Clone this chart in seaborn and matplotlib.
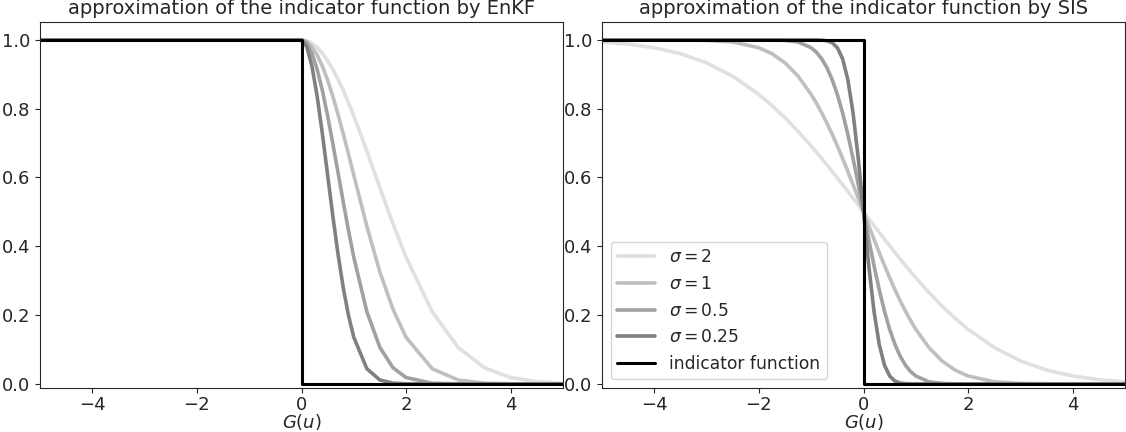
import matplotlib
matplotlib.use("Agg")
import matplotlib.pyplot as plt
import seaborn as sns

sns.set_style("ticks")
plt.rcParams['font.family'] = ['DejaVu Sans']

sigmas = ["2", "1", "0.5", "0.25"]
colors = ["#e0e0e0", "#bfbfbf", "#a1a1a1", "#808080"]

# EnKF panel: values (x <= 0 all equal 1)
enkf_x = [-5, 0, 0.1, 0.2, 0.3, 0.4, 0.5, 0.6, 0.7, 0.8, 0.9, 1.0,
          1.25, 1.5, 1.75, 2.0, 2.5, 3.0, 3.5, 4.0, 4.5, 5.0]
enkf_s2 = [1, 1, .9975, .9900, .9778, .9608, .9394, .9139, .8847, .8521, .8167, .7788,
           .6766, .5698, .4650, .3679, .2096, .1054, .0468, .0183, .0063, .0019]
enkf_s1 = [1, 1, .9950, .9802, .9560, .9231, .8825, .8353, .7827, .7261, .6670, .6065,
           .4578, .3247, .2163, .1353, .0439, .0111, .0022, .0003, 0, 0]
enkf_s05 = [1, 1, .9900, .9608, .9139, .8521, .7788, .6977, .6126, .5273, .4449, .3679,
            .2096, .1054, .0468, .0183, .0019, .0001, 0, 0, 0, 0]
enkf_s025 = [1, 1, .9802, .9231, .8353, .7261, .6065, .4868, .3753, .2780, .1979, .1353,
             .0439, .0111, .0022, .0003, 0, 0, 0, 0, 0, 0]

# SIS panel
sis_x = [-5, -4.5, -4, -3.5, -3, -2.5, -2, -1.75, -1.5, -1.25, -1,
         -0.9, -0.8, -0.7, -0.6, -0.5, -0.4, -0.3, -0.2, -0.1, 0,
         0.1, 0.2, 0.3, 0.4, 0.5, 0.6, 0.7, 0.8, 0.9, 1.0,
         1.25, 1.5, 1.75, 2.0, 2.5, 3.0, 3.5, 4.0, 4.5, 5.0]
sis_s2 = [.9938, .9878, .9772, .9599, .9332, .8944, .8413, .8092, .7734, .7340, .6915,
          .6736, .6554, .6368, .6179, .5987, .5793, .5596, .5398, .5199, .5,
          .4801, .4602, .4404, .4207, .4013, .3821, .3632, .3446, .3264, .3085,
          .2660, .2266, .1908, .1587, .1056, .0668, .0401, .0228, .0122, .0062]
sis_s1 = [1, 1, 1, .9998, .9987, .9938, .9772, .9599, .9332, .8944, .8413,
          .8159, .7881, .7580, .7257, .6915, .6554, .6179, .5793, .5398, .5,
          .4602, .4207, .3821, .3446, .3085, .2743, .2420, .2119, .1841, .1587,
          .1056, .0668, .0401, .0228, .0062, .0013, .0002, 0, 0, 0]
sis_s05 = [1, 1, 1, 1, 1, 1, 1, .9998, .9987, .9938, .9772,
           .9641, .9452, .9192, .8849, .8413, .7881, .7257, .6554, .5793, .5,
           .4207, .3446, .2743, .2119, .1587, .1151, .0808, .0548, .0359, .0228,
           .0062, .0013, .0002, 0, 0, 0, 0, 0, 0, 0]
sis_s025 = [1, 1, 1, 1, 1, 1, 1, 1, 1, 1, 1,
            .9998, .9993, .9974, .9918, .9772, .9452, .8849, .7881, .6554, .5,
            .3446, .2119, .1151, .0548, .0228, .0082, .0026, .0007, .0002, 0,
            0, 0, 0, 0, 0, 0, 0, 0, 0, 0]

ind_x = [-5, 0, 0, 5]
ind_y = [1, 1, 0, 0]

titles = ["approximation of the indicator function by EnKF",
          "approximation of the indicator function by SIS"]
xticks = [-4, -2, 0, 2, 4]
yticks = [0.0, 0.2, 0.4, 0.6, 0.8, 1.0]

fig = plt.figure(figsize=(11.26, 4.32), dpi=100)
ax1 = fig.add_axes([40/1126, 44/432, 523/1126, 366/432])
ax2 = fig.add_axes([602/1126, 44/432, 523/1126, 366/432])

panels = [
    (ax1, enkf_x, [enkf_s2, enkf_s1, enkf_s05, enkf_s025]),
    (ax2, sis_x, [sis_s2, sis_s1, sis_s05, sis_s025]),
]

fs = 13
for i, (ax, xs, ys) in enumerate(panels):
    for s, c, y in zip(sigmas, colors, ys):
        sns.lineplot(x=xs, y=y, ax=ax, color=c, lw=2.6, label=r"$\sigma = %s$" % s,
                     sort=False, estimator=None)
    sns.lineplot(x=ind_x, y=ind_y, ax=ax, color="black", lw=2.2,
                 label="indicator function", sort=False, estimator=None)
    ax.set_xlim(-5, 5)
    ax.set_ylim(-0.012, 1.052)
    ax.set_xticks(xticks)
    ax.set_yticks(yticks)
    ax.tick_params(labelsize=fs)
    ax.tick_params(axis="x", pad=2)
    ax.set_xlabel(r"$G(u)$", fontsize=fs, labelpad=-1)
    ax.set_title(titles[i], fontsize=fs + 1, pad=6)
    if i == 0:
        ax.get_legend().remove()
    else:
        ax.legend(loc="lower left", fontsize=12.3, handlelength=2.2)

fig.savefig("out.png", dpi=100)
